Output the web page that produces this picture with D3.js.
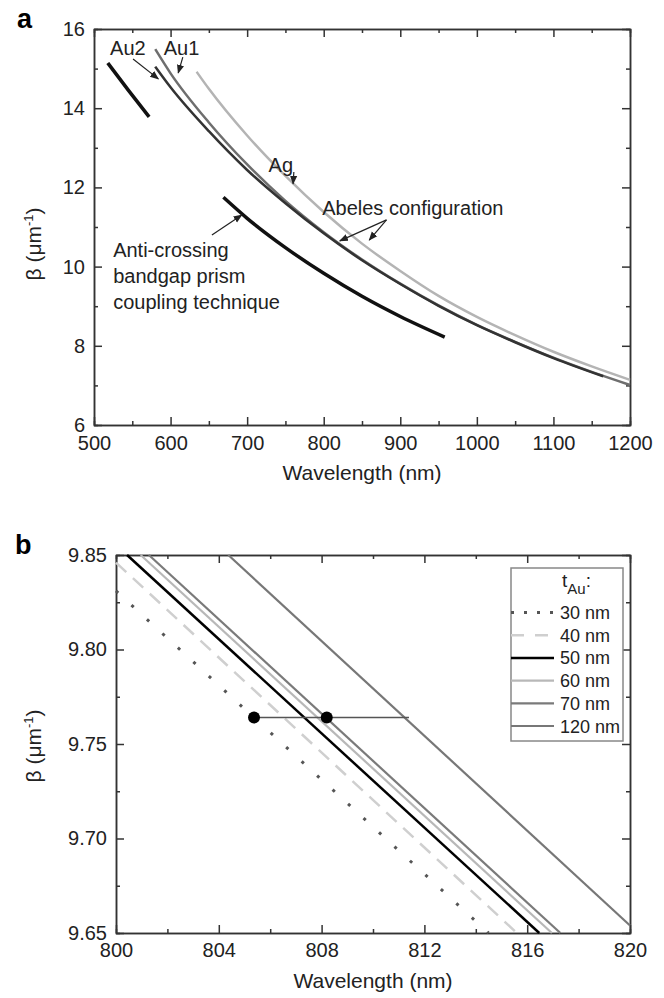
<!DOCTYPE html>
<html>
<head>
<meta charset="utf-8">
<script src="https://cdn.jsdelivr.net/npm/d3@7"></script>
<style>
  body { margin: 0; background: #fff; }
  svg { font-family: "Liberation Sans", Arial, sans-serif; }
  .axis path, .axis line { stroke: #333; stroke-width: 1.5; }
  .axis text { font-family: "Liberation Sans", Arial, sans-serif; font-size: 20px; fill: #222; }
</style>
</head>
<body>
<svg id="chart" width="664" height="998"></svg>
<script>
// ---------- panel a data (wavelength nm, beta um^-1) ----------
var xTicksA = [500, 600, 700, 800, 900, 1000, 1100, 1200];
var yTicksA = [6, 8, 10, 12, 14, 16];

var prismLow  = [[518, 15.14], [545, 14.45], [572, 13.78]];
var prismHigh = [[669, 11.75], [700, 11.22], [750, 10.48], [800, 9.83], [850, 9.25], [900, 8.74], [958, 8.22]];
var au1 = [[580, 15.49], [600, 14.88], [650, 13.64], [700, 12.58], [750, 11.66], [800, 10.87], [850, 10.18],
           [900, 9.57], [950, 9.02], [1000, 8.53], [1050, 8.10], [1100, 7.70], [1150, 7.34], [1200, 7.01]];
var au2 = [[580, 15.05], [600, 14.53], [650, 13.42], [700, 12.44], [750, 11.60], [800, 10.84], [850, 10.16],
           [900, 9.56], [950, 9.01], [1000, 8.52], [1050, 8.09], [1100, 7.69], [1165, 7.23]];
var ag  = [[634, 14.92], [650, 14.49], [700, 13.31], [750, 12.29], [800, 11.38], [850, 10.58], [900, 9.89],
           [950, 9.26], [1000, 8.73], [1050, 8.27], [1100, 7.85], [1150, 7.48], [1200, 7.14]];

// annotation text anchors and arrows, in data units
var labelsA = [
  {text: "Au2", at: [521, 15.34]},
  {text: "Au1", at: [591, 15.34]},
  {text: "Ag", at: [728, 12.39]},
  {text: "Abeles configuration", at: [798, 11.30]},
  {text: "Anti-crossing", at: [525, 10.25]},
  {text: "bandgap prism", at: [525, 9.59]},
  {text: "coupling technique", at: [525, 8.93]}
];
var arrowsA = [
  [[551, 15.24], [584, 14.74]],
  [[616, 15.29], [610, 14.89]],
  [[761, 12.39], [760, 12.09]],
  [[882, 11.18], [821, 10.65]],
  [[882, 11.18], [859.5, 10.67]],
  [[654, 10.80], [693, 11.30]]
];

// ---------- panel b data ----------
var xTicksB = [800, 804, 808, 812, 816, 820];
var yTicksB = [9.65, 9.70, 9.75, 9.80, 9.85];
var thickness = ["30 nm", "40 nm", "50 nm", "60 nm", "70 nm", "120 nm"];
var linesB = [
  [[800, 9.831], [814.5, 9.65]],
  [[800, 9.846], [815.6, 9.65]],
  [[800.43, 9.85], [816.47, 9.65]],
  [[800.96, 9.85], [816.96, 9.65]],
  [[801.28, 9.85], [817.29, 9.65]],
  [[804.37, 9.85], [820, 9.654]]
];
var markDots = [[805.37, 9.764], [808.2, 9.764]];
var markLine = [[805.37, 9.764], [811.4, 9.764]];

var svg = d3.select("#chart");

// inward ticks on all four sides, labels on bottom/left only
function frame(g, x, y, xMajor, xMinor, yMajor, yMinor, xFmt, yFmt, xPad) {
  var w = x.range()[1], h = y.range()[0];
  g.append("g").attr("class", "axis").attr("transform", "translate(0," + h + ")")
    .call(d3.axisBottom(x).tickValues(xMajor).tickSizeInner(-8).tickSizeOuter(0).tickPadding(xPad).tickFormat(xFmt));
  g.append("g").attr("class", "axis").attr("transform", "translate(0," + h + ")")
    .call(d3.axisBottom(x).tickValues(xMinor).tickSize(-4).tickFormat(""));
  g.append("g").attr("class", "axis")
    .call(d3.axisLeft(y).tickValues(yMajor).tickSizeInner(-8).tickSizeOuter(0).tickPadding(9).tickFormat(yFmt));
  g.append("g").attr("class", "axis")
    .call(d3.axisLeft(y).tickValues(yMinor).tickSize(-4).tickFormat(""));
  g.append("g").attr("class", "axis")
    .call(d3.axisTop(x).tickValues(xMajor).tickSizeInner(-8).tickSizeOuter(0).tickFormat(""));
  g.append("g").attr("class", "axis")
    .call(d3.axisTop(x).tickValues(xMinor).tickSize(-4).tickFormat(""));
  g.append("g").attr("class", "axis").attr("transform", "translate(" + w + ",0)")
    .call(d3.axisRight(y).tickValues(yMajor).tickSizeInner(-8).tickSizeOuter(0).tickFormat(""));
  g.append("g").attr("class", "axis").attr("transform", "translate(" + w + ",0)")
    .call(d3.axisRight(y).tickValues(yMinor).tickSize(-4).tickFormat(""));
}

function yTitle(g, cx, cy) {
  var t = g.append("text").attr("transform", "translate(" + cx + "," + cy + ")rotate(-90)")
    .attr("text-anchor", "middle").style("font-size", "21px").attr("fill", "#222");
  t.append("tspan").text("\u03b2 (\u03bcm");
  t.append("tspan").attr("dy", -8).style("font-size", "13px").text("-1");
  t.append("tspan").attr("dy", 8).text(")");
}

// ================= panel a =================
var gA = svg.append("g").attr("transform", "translate(94,29)");
var xA = d3.scaleLinear().domain([500, 1200]).range([0, 536]);
var yA = d3.scaleLinear().domain([6, 16]).range([396, 0]);
var lineA = d3.line().x(function(d) { return xA(d[0]); }).y(function(d) { return yA(d[1]); })
  .curve(d3.curveMonotoneX);

frame(gA, xA, yA, xTicksA, d3.range(550, 1200, 100), yTicksA, [7, 9, 11, 13, 15],
      d3.format("d"), d3.format("d"), 11);

var curvesA = [
  {data: ag, color: "#b4b4b4", w: 2.5},
  {data: au1, color: "#6e6e6e", w: 2.5},
  {data: au2, color: "#333", w: 2.5},
  {data: prismLow, color: "#111", w: 3.5},
  {data: prismHigh, color: "#111", w: 3.5}
];
gA.selectAll(".curve").data(curvesA).enter().append("path")
  .attr("class", "curve")
  .attr("d", function(d) { return lineA(d.data); })
  .attr("fill", "none")
  .attr("stroke", function(d) { return d.color; })
  .attr("stroke-width", function(d) { return d.w; });

svg.append("defs").append("marker")
  .attr("id", "head").attr("viewBox", "0 0 10 10").attr("refX", 9).attr("refY", 5)
  .attr("markerWidth", 9).attr("markerHeight", 9).attr("markerUnits", "userSpaceOnUse")
  .attr("orient", "auto")
  .append("path").attr("d", "M0,1 L10,5 L0,9 Z").attr("fill", "#222");

gA.selectAll(".arrow").data(arrowsA).enter().append("line")
  .attr("class", "arrow")
  .attr("x1", function(d) { return xA(d[0][0]); }).attr("y1", function(d) { return yA(d[0][1]); })
  .attr("x2", function(d) { return xA(d[1][0]); }).attr("y2", function(d) { return yA(d[1][1]); })
  .attr("stroke", "#222").attr("stroke-width", 1.2).attr("marker-end", "url(#head)");

gA.selectAll(".lab").data(labelsA).enter().append("text")
  .attr("class", "lab")
  .attr("x", function(d) { return xA(d.at[0]); }).attr("y", function(d) { return yA(d.at[1]); })
  .style("font-size", "20px").attr("fill", "#222")
  .text(function(d) { return d.text; });

svg.append("text").attr("x", 362).attr("y", 480).attr("text-anchor", "middle")
  .style("font-size", "21px").attr("fill", "#222").text("Wavelength (nm)");
yTitle(svg, 41, 244);
svg.append("text").attr("x", 17).attr("y", 28).style("font-size", "27px").style("font-weight", "bold").text("a");

// ================= panel b =================
var gB = svg.append("g").attr("transform", "translate(116,555)");
var xB = d3.scaleLinear().domain([800, 820]).range([0, 514]);
var yB = d3.scaleLinear().domain([9.65, 9.85]).range([378, 0]);
var lineB = d3.line().x(function(d) { return xB(d[0]); }).y(function(d) { return yB(d[1]); });

frame(gB, xB, yB, xTicksB, d3.range(802, 820, 4), yTicksB, [9.675, 9.725, 9.775, 9.825],
      d3.format("d"), d3.format(".2f"), 10);

var stylesB = [
  {color: "#555", w: 3, dash: "3,18", ldash: "3,10"},
  {color: "#cfcfcf", w: 2.5, dash: "14,9", ldash: "13,11"},
  {color: "#000", w: 2.5, dash: null, ldash: null},
  {color: "#b8b8b8", w: 2.2, dash: null, ldash: null},
  {color: "#7a7a7a", w: 2.2, dash: null, ldash: null},
  {color: "#777", w: 2.2, dash: null, ldash: null}
];

gB.selectAll(".tline").data(linesB).enter().append("path")
  .attr("class", "tline")
  .attr("d", function(d) { return lineB(d); })
  .attr("fill", "none")
  .attr("stroke", function(d, i) { return stylesB[i].color; })
  .attr("stroke-width", function(d, i) { return stylesB[i].w; })
  .attr("stroke-dasharray", function(d, i) { return stylesB[i].dash; });

gB.append("path").attr("d", lineB(markLine)).attr("stroke", "#555").attr("stroke-width", 1.5).attr("fill", "none");
gB.selectAll(".dot").data(markDots).enter().append("circle")
  .attr("cx", function(d) { return xB(d[0]); }).attr("cy", function(d) { return yB(d[1]); })
  .attr("r", 6).attr("fill", "#000");

// legend
var leg = svg.append("g").attr("transform", "translate(511,568)");
leg.append("rect").attr("width", 112).attr("height", 173).attr("fill", "#fff")
  .attr("stroke", "#888").attr("stroke-width", 1.5);
var lt = leg.append("text").attr("x", 51).attr("y", 19).style("font-size", "19px").attr("fill", "#222");
lt.append("tspan").text("t");
lt.append("tspan").attr("dy", 7).style("font-size", "15px").text("Au");
lt.append("tspan").attr("dy", -7).text(":");
var items = leg.selectAll(".item").data(thickness).enter().append("g")
  .attr("class", "item")
  .attr("transform", function(d, i) { return "translate(0," + (51 + i * 22.7) + ")"; });
items.append("line").attr("x1", 0).attr("x2", 43).attr("y1", -6.5).attr("y2", -6.5)
  .attr("stroke", function(d, i) { return stylesB[i].color; })
  .attr("stroke-width", function(d, i) { return stylesB[i].w; })
  .attr("stroke-dasharray", function(d, i) { return stylesB[i].ldash; });
items.append("text").attr("x", 49).style("font-size", "18px").attr("fill", "#222")
  .text(function(d) { return d; });

svg.append("text").attr("x", 373).attr("y", 988).attr("text-anchor", "middle")
  .style("font-size", "21px").attr("fill", "#222").text("Wavelength (nm)");
yTitle(svg, 41, 746);
svg.append("text").attr("x", 15).attr("y", 554).style("font-size", "27px").style("font-weight", "bold").text("b");
</script>
</body>
</html>
